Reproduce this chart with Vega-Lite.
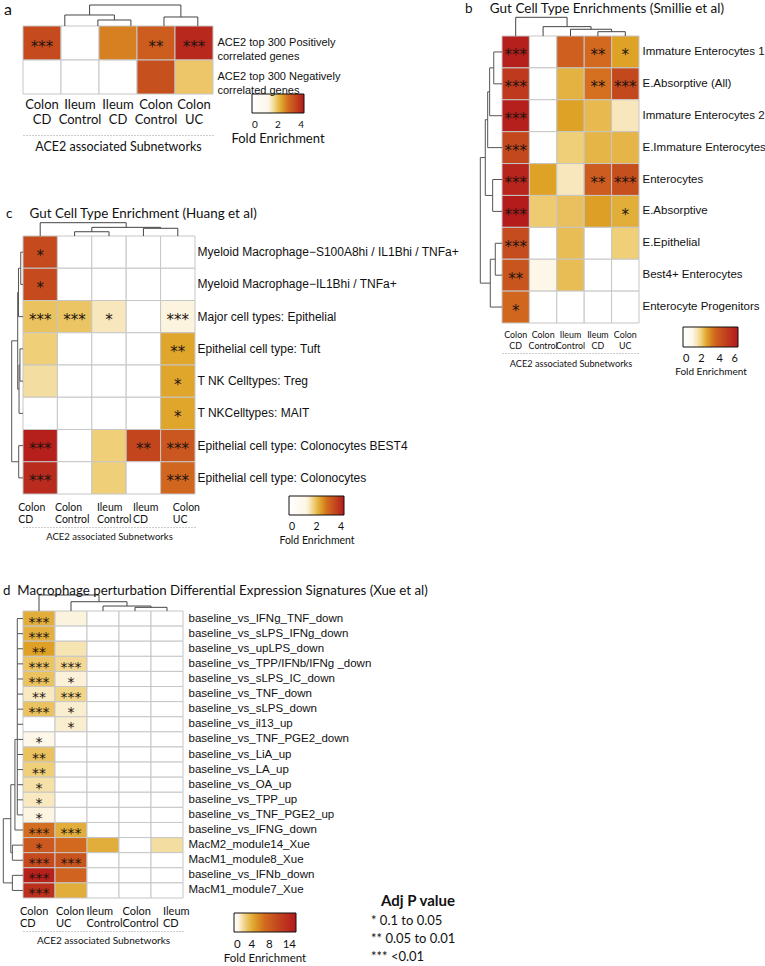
{
"$schema":"https://vega.github.io/schema/vega-lite/v6.json",
"padding":{"left":2,"top":1,"right":0,"bottom":0},
"config":{"view":{"stroke":null},"axis":{"labelLimit":400,"labelColor":"#111","titleColor":"#111"},"legend":{"labelColor":"#111","titleColor":"#111","padding":0},"title":{"color":"#111"}},
"datasets":{
"hA":[
{"c":"Colon CD","r":"ACE2 top 300 Positively correlated genes","v":3.3,"s":"***"},
{"c":"Ileum Control","r":"ACE2 top 300 Positively correlated genes","v":0,"s":""},
{"c":"Ileum CD","r":"ACE2 top 300 Positively correlated genes","v":2.6,"s":""},
{"c":"Colon Control","r":"ACE2 top 300 Positively correlated genes","v":3.0,"s":"**"},
{"c":"Colon UC","r":"ACE2 top 300 Positively correlated genes","v":3.8,"s":"***"},
{"c":"Colon CD","r":"ACE2 top 300 Negatively correlated genes","v":0,"s":""},
{"c":"Ileum Control","r":"ACE2 top 300 Negatively correlated genes","v":0,"s":""},
{"c":"Ileum CD","r":"ACE2 top 300 Negatively correlated genes","v":0,"s":""},
{"c":"Colon Control","r":"ACE2 top 300 Negatively correlated genes","v":3.2,"s":""},
{"c":"Colon UC","r":"ACE2 top 300 Negatively correlated genes","v":1.9,"s":""}
],
"hB":[
{"c":"Colon CD","r":"Immature Enterocytes 1","v":5.8,"s":"***"},{"c":"Colon Control","r":"Immature Enterocytes 1","v":0,"s":""},{"c":"Ileum Control","r":"Immature Enterocytes 1","v":3.7,"s":""},{"c":"Ileum CD","r":"Immature Enterocytes 1","v":3.4,"s":"**"},{"c":"Colon UC","r":"Immature Enterocytes 1","v":2.6,"s":"*"},
{"c":"Colon CD","r":"E.Absorptive (All)","v":4.9,"s":"***"},{"c":"Colon Control","r":"E.Absorptive (All)","v":0,"s":""},{"c":"Ileum Control","r":"E.Absorptive (All)","v":2.4,"s":""},{"c":"Ileum CD","r":"E.Absorptive (All)","v":3.3,"s":"**"},{"c":"Colon UC","r":"E.Absorptive (All)","v":4.4,"s":"***"},
{"c":"Colon CD","r":"Immature Enterocytes 2","v":5.8,"s":"***"},{"c":"Colon Control","r":"Immature Enterocytes 2","v":0,"s":""},{"c":"Ileum Control","r":"Immature Enterocytes 2","v":2.6,"s":""},{"c":"Ileum CD","r":"Immature Enterocytes 2","v":2.3,"s":""},{"c":"Colon UC","r":"Immature Enterocytes 2","v":1.5,"s":""},
{"c":"Colon CD","r":"E.Immature Enterocytes","v":4.4,"s":"***"},{"c":"Colon Control","r":"E.Immature Enterocytes","v":0,"s":""},{"c":"Ileum Control","r":"E.Immature Enterocytes","v":2.0,"s":""},{"c":"Ileum CD","r":"E.Immature Enterocytes","v":2.35,"s":""},{"c":"Colon UC","r":"E.Immature Enterocytes","v":2.35,"s":""},
{"c":"Colon CD","r":"Enterocytes","v":5.6,"s":"***"},{"c":"Colon Control","r":"Enterocytes","v":2.6,"s":""},{"c":"Ileum Control","r":"Enterocytes","v":1.5,"s":""},{"c":"Ileum CD","r":"Enterocytes","v":3.8,"s":"**"},{"c":"Colon UC","r":"Enterocytes","v":4.2,"s":"***"},
{"c":"Colon CD","r":"E.Absorptive","v":5.9,"s":"***"},{"c":"Colon Control","r":"E.Absorptive","v":2.05,"s":""},{"c":"Ileum Control","r":"E.Absorptive","v":2.2,"s":""},{"c":"Ileum CD","r":"E.Absorptive","v":2.65,"s":""},{"c":"Colon UC","r":"E.Absorptive","v":2.45,"s":"*"},
{"c":"Colon CD","r":"E.Epithelial","v":4.3,"s":"***"},{"c":"Colon Control","r":"E.Epithelial","v":0,"s":""},{"c":"Ileum Control","r":"E.Epithelial","v":2.25,"s":""},{"c":"Ileum CD","r":"E.Epithelial","v":0,"s":""},{"c":"Colon UC","r":"E.Epithelial","v":2.0,"s":""},
{"c":"Colon CD","r":"Best4+ Enterocytes","v":4.0,"s":"**"},{"c":"Colon Control","r":"Best4+ Enterocytes","v":1.1,"s":""},{"c":"Ileum Control","r":"Best4+ Enterocytes","v":2.25,"s":""},{"c":"Ileum CD","r":"Best4+ Enterocytes","v":0,"s":""},{"c":"Colon UC","r":"Best4+ Enterocytes","v":0,"s":""},
{"c":"Colon CD","r":"Enterocyte Progenitors","v":3.45,"s":"*"},{"c":"Colon Control","r":"Enterocyte Progenitors","v":0,"s":""},{"c":"Ileum Control","r":"Enterocyte Progenitors","v":0,"s":""},{"c":"Ileum CD","r":"Enterocyte Progenitors","v":0,"s":""},{"c":"Colon UC","r":"Enterocyte Progenitors","v":0,"s":""}
],
"hC":[
{"c":"Colon CD","r":"Myeloid Macrophage−S100A8hi / IL1Bhi / TNFa+","v":3.3,"s":"*"},{"c":"Colon Control","r":"Myeloid Macrophage−S100A8hi / IL1Bhi / TNFa+","v":0,"s":""},{"c":"Ileum Control","r":"Myeloid Macrophage−S100A8hi / IL1Bhi / TNFa+","v":0,"s":""},{"c":"Ileum CD","r":"Myeloid Macrophage−S100A8hi / IL1Bhi / TNFa+","v":0,"s":""},{"c":"Colon UC","r":"Myeloid Macrophage−S100A8hi / IL1Bhi / TNFa+","v":0,"s":""},
{"c":"Colon CD","r":"Myeloid Macrophage−IL1Bhi / TNFa+","v":3.3,"s":"*"},{"c":"Colon Control","r":"Myeloid Macrophage−IL1Bhi / TNFa+","v":0,"s":""},{"c":"Ileum Control","r":"Myeloid Macrophage−IL1Bhi / TNFa+","v":0,"s":""},{"c":"Ileum CD","r":"Myeloid Macrophage−IL1Bhi / TNFa+","v":0,"s":""},{"c":"Colon UC","r":"Myeloid Macrophage−IL1Bhi / TNFa+","v":0,"s":""},
{"c":"Colon CD","r":"Major cell types: Epithelial","v":1.95,"s":"***"},{"c":"Colon Control","r":"Major cell types: Epithelial","v":1.93,"s":"***"},{"c":"Ileum Control","r":"Major cell types: Epithelial","v":1.49,"s":"*"},{"c":"Ileum CD","r":"Major cell types: Epithelial","v":0,"s":""},{"c":"Colon UC","r":"Major cell types: Epithelial","v":1.33,"s":"***"},
{"c":"Colon CD","r":"Epithelial cell type: Tuft","v":1.8,"s":""},{"c":"Colon Control","r":"Epithelial cell type: Tuft","v":0,"s":""},{"c":"Ileum Control","r":"Epithelial cell type: Tuft","v":0,"s":""},{"c":"Ileum CD","r":"Epithelial cell type: Tuft","v":0,"s":""},{"c":"Colon UC","r":"Epithelial cell type: Tuft","v":2.27,"s":"**"},
{"c":"Colon CD","r":"T NK Celltypes: Treg","v":1.62,"s":""},{"c":"Colon Control","r":"T NK Celltypes: Treg","v":0,"s":""},{"c":"Ileum Control","r":"T NK Celltypes: Treg","v":0,"s":""},{"c":"Ileum CD","r":"T NK Celltypes: Treg","v":0,"s":""},{"c":"Colon UC","r":"T NK Celltypes: Treg","v":2.27,"s":"*"},
{"c":"Colon CD","r":"T NKCelltypes: MAIT","v":0,"s":""},{"c":"Colon Control","r":"T NKCelltypes: MAIT","v":0,"s":""},{"c":"Ileum Control","r":"T NKCelltypes: MAIT","v":0,"s":""},{"c":"Ileum CD","r":"T NKCelltypes: MAIT","v":0,"s":""},{"c":"Colon UC","r":"T NKCelltypes: MAIT","v":2.27,"s":"*"},
{"c":"Colon CD","r":"Epithelial cell type: Colonocytes BEST4","v":3.9,"s":"***"},{"c":"Colon Control","r":"Epithelial cell type: Colonocytes BEST4","v":0,"s":""},{"c":"Ileum Control","r":"Epithelial cell type: Colonocytes BEST4","v":1.8,"s":""},{"c":"Ileum CD","r":"Epithelial cell type: Colonocytes BEST4","v":3.4,"s":"**"},{"c":"Colon UC","r":"Epithelial cell type: Colonocytes BEST4","v":3.1,"s":"***"},
{"c":"Colon CD","r":"Epithelial cell type: Colonocytes","v":3.75,"s":"***"},{"c":"Colon Control","r":"Epithelial cell type: Colonocytes","v":0,"s":""},{"c":"Ileum Control","r":"Epithelial cell type: Colonocytes","v":1.8,"s":""},{"c":"Ileum CD","r":"Epithelial cell type: Colonocytes","v":0,"s":""},{"c":"Colon UC","r":"Epithelial cell type: Colonocytes","v":2.85,"s":"***"}
],
"hD":[
{"c":"Colon CD","r":"baseline_vs_IFNg_TNF_down","v":4.0,"s":"***"},{"c":"Colon UC","r":"baseline_vs_IFNg_TNF_down","v":1.1,"s":""},{"c":"Ileum Control","r":"baseline_vs_IFNg_TNF_down","v":0,"s":""},{"c":"Colon Control","r":"baseline_vs_IFNg_TNF_down","v":0,"s":""},{"c":"Ileum CD","r":"baseline_vs_IFNg_TNF_down","v":0,"s":""},
{"c":"Colon CD","r":"baseline_vs_sLPS_IFNg_down","v":3.9,"s":"***"},{"c":"Colon UC","r":"baseline_vs_sLPS_IFNg_down","v":0,"s":""},{"c":"Ileum Control","r":"baseline_vs_sLPS_IFNg_down","v":0,"s":""},{"c":"Colon Control","r":"baseline_vs_sLPS_IFNg_down","v":0,"s":""},{"c":"Ileum CD","r":"baseline_vs_sLPS_IFNg_down","v":0,"s":""},
{"c":"Colon CD","r":"baseline_vs_upLPS_down","v":4.6,"s":"**"},{"c":"Colon UC","r":"baseline_vs_upLPS_down","v":1.7,"s":""},{"c":"Ileum Control","r":"baseline_vs_upLPS_down","v":0,"s":""},{"c":"Colon Control","r":"baseline_vs_upLPS_down","v":0,"s":""},{"c":"Ileum CD","r":"baseline_vs_upLPS_down","v":0,"s":""},
{"c":"Colon CD","r":"baseline_vs_TPP/IFNb/IFNg _down","v":3.0,"s":"***"},{"c":"Colon UC","r":"baseline_vs_TPP/IFNb/IFNg _down","v":2.1,"s":"***"},{"c":"Ileum Control","r":"baseline_vs_TPP/IFNb/IFNg _down","v":0,"s":""},{"c":"Colon Control","r":"baseline_vs_TPP/IFNb/IFNg _down","v":0,"s":""},{"c":"Ileum CD","r":"baseline_vs_TPP/IFNb/IFNg _down","v":0,"s":""},
{"c":"Colon CD","r":"baseline_vs_sLPS_IC_down","v":3.1,"s":"***"},{"c":"Colon UC","r":"baseline_vs_sLPS_IC_down","v":1.15,"s":"*"},{"c":"Ileum Control","r":"baseline_vs_sLPS_IC_down","v":0,"s":""},{"c":"Colon Control","r":"baseline_vs_sLPS_IC_down","v":0,"s":""},{"c":"Ileum CD","r":"baseline_vs_sLPS_IC_down","v":0,"s":""},
{"c":"Colon CD","r":"baseline_vs_TNF_down","v":1.5,"s":"**"},{"c":"Colon UC","r":"baseline_vs_TNF_down","v":2.25,"s":"***"},{"c":"Ileum Control","r":"baseline_vs_TNF_down","v":0,"s":""},{"c":"Colon Control","r":"baseline_vs_TNF_down","v":0,"s":""},{"c":"Ileum CD","r":"baseline_vs_TNF_down","v":0,"s":""},
{"c":"Colon CD","r":"baseline_vs_sLPS_down","v":3.1,"s":"***"},{"c":"Colon UC","r":"baseline_vs_sLPS_down","v":1.3,"s":"*"},{"c":"Ileum Control","r":"baseline_vs_sLPS_down","v":0,"s":""},{"c":"Colon Control","r":"baseline_vs_sLPS_down","v":0,"s":""},{"c":"Ileum CD","r":"baseline_vs_sLPS_down","v":0,"s":""},
{"c":"Colon CD","r":"baseline_vs_il13_up","v":0,"s":""},{"c":"Colon UC","r":"baseline_vs_il13_up","v":1.3,"s":"*"},{"c":"Ileum Control","r":"baseline_vs_il13_up","v":0,"s":""},{"c":"Colon Control","r":"baseline_vs_il13_up","v":0,"s":""},{"c":"Ileum CD","r":"baseline_vs_il13_up","v":0,"s":""},
{"c":"Colon CD","r":"baseline_vs_TNF_PGE2_down","v":0.9,"s":"*"},{"c":"Colon UC","r":"baseline_vs_TNF_PGE2_down","v":0,"s":""},{"c":"Ileum Control","r":"baseline_vs_TNF_PGE2_down","v":0,"s":""},{"c":"Colon Control","r":"baseline_vs_TNF_PGE2_down","v":0,"s":""},{"c":"Ileum CD","r":"baseline_vs_TNF_PGE2_down","v":0,"s":""},
{"c":"Colon CD","r":"baseline_vs_LiA_up","v":3.1,"s":"**"},{"c":"Colon UC","r":"baseline_vs_LiA_up","v":0,"s":""},{"c":"Ileum Control","r":"baseline_vs_LiA_up","v":0,"s":""},{"c":"Colon Control","r":"baseline_vs_LiA_up","v":0,"s":""},{"c":"Ileum CD","r":"baseline_vs_LiA_up","v":0,"s":""},
{"c":"Colon CD","r":"baseline_vs_LA_up","v":2.5,"s":"**"},{"c":"Colon UC","r":"baseline_vs_LA_up","v":0,"s":""},{"c":"Ileum Control","r":"baseline_vs_LA_up","v":0,"s":""},{"c":"Colon Control","r":"baseline_vs_LA_up","v":0,"s":""},{"c":"Ileum CD","r":"baseline_vs_LA_up","v":0,"s":""},
{"c":"Colon CD","r":"baseline_vs_OA_up","v":1.85,"s":"*"},{"c":"Colon UC","r":"baseline_vs_OA_up","v":0,"s":""},{"c":"Ileum Control","r":"baseline_vs_OA_up","v":0,"s":""},{"c":"Colon Control","r":"baseline_vs_OA_up","v":0,"s":""},{"c":"Ileum CD","r":"baseline_vs_OA_up","v":0,"s":""},
{"c":"Colon CD","r":"baseline_vs_TPP_up","v":1.5,"s":"*"},{"c":"Colon UC","r":"baseline_vs_TPP_up","v":0,"s":""},{"c":"Ileum Control","r":"baseline_vs_TPP_up","v":0,"s":""},{"c":"Colon Control","r":"baseline_vs_TPP_up","v":0,"s":""},{"c":"Ileum CD","r":"baseline_vs_TPP_up","v":0,"s":""},
{"c":"Colon CD","r":"baseline_vs_TNF_PGE2_up","v":1.05,"s":"*"},{"c":"Colon UC","r":"baseline_vs_TNF_PGE2_up","v":0,"s":""},{"c":"Ileum Control","r":"baseline_vs_TNF_PGE2_up","v":0,"s":""},{"c":"Colon Control","r":"baseline_vs_TNF_PGE2_up","v":0,"s":""},{"c":"Ileum CD","r":"baseline_vs_TNF_PGE2_up","v":0,"s":""},
{"c":"Colon CD","r":"baseline_vs_IFNG_down","v":6.8,"s":"***"},{"c":"Colon UC","r":"baseline_vs_IFNG_down","v":4.0,"s":"***"},{"c":"Ileum Control","r":"baseline_vs_IFNG_down","v":0,"s":""},{"c":"Colon Control","r":"baseline_vs_IFNG_down","v":0,"s":""},{"c":"Ileum CD","r":"baseline_vs_IFNG_down","v":0,"s":""},
{"c":"Colon CD","r":"MacM2_module14_Xue","v":8.3,"s":"*"},{"c":"Colon UC","r":"MacM2_module14_Xue","v":7.0,"s":""},{"c":"Ileum Control","r":"MacM2_module14_Xue","v":4.0,"s":""},{"c":"Colon Control","r":"MacM2_module14_Xue","v":0,"s":""},{"c":"Ileum CD","r":"MacM2_module14_Xue","v":1.95,"s":""},
{"c":"Colon CD","r":"MacM1_module8_Xue","v":9.5,"s":"***"},{"c":"Colon UC","r":"MacM1_module8_Xue","v":8.7,"s":"***"},{"c":"Ileum Control","r":"MacM1_module8_Xue","v":0,"s":""},{"c":"Colon Control","r":"MacM1_module8_Xue","v":0,"s":""},{"c":"Ileum CD","r":"MacM1_module8_Xue","v":0,"s":""},
{"c":"Colon CD","r":"baseline_vs_IFNb_down","v":13.3,"s":"***"},{"c":"Colon UC","r":"baseline_vs_IFNb_down","v":7.5,"s":""},{"c":"Ileum Control","r":"baseline_vs_IFNb_down","v":0,"s":""},{"c":"Colon Control","r":"baseline_vs_IFNb_down","v":0,"s":""},{"c":"Ileum CD","r":"baseline_vs_IFNb_down","v":0,"s":""},
{"c":"Colon CD","r":"MacM1_module7_Xue","v":11.8,"s":"***"},{"c":"Colon UC","r":"MacM1_module7_Xue","v":4.0,"s":""},{"c":"Ileum Control","r":"MacM1_module7_Xue","v":0,"s":""},{"c":"Colon Control","r":"MacM1_module7_Xue","v":0,"s":""},{"c":"Ileum CD","r":"MacM1_module7_Xue","v":0,"s":""}
],
"dA":[
{"p":1.97,"p2":1.97,"h":0,"h2":0.286},{"p":2.84,"p2":2.84,"h":0,"h2":0.286},{"p":1.97,"p2":2.84,"h":0.286,"h2":0.286},
{"p":3.71,"p2":3.71,"h":0,"h2":0.429},{"p":4.6,"p2":4.6,"h":0,"h2":0.429},{"p":3.71,"p2":4.6,"h":0.429,"h2":0.429},
{"p":1.1,"p2":1.1,"h":0,"h2":0.524},{"p":2.405,"p2":2.405,"h":0.286,"h2":0.524},{"p":1.1,"p2":2.405,"h":0.524,"h2":0.524},
{"p":1.7525,"p2":1.7525,"h":0.524,"h2":1},{"p":4.155,"p2":4.155,"h":0.429,"h2":1},{"p":1.7525,"p2":4.155,"h":1,"h2":1}
],
"dBc":[
{"p":3.5,"p2":3.5,"h":0,"h2":0.23},{"p":4.5,"p2":4.5,"h":0,"h2":0.23},{"p":3.5,"p2":4.5,"h":0.23,"h2":0.23},
{"p":2.5,"p2":2.5,"h":0,"h2":0.36},{"p":4,"p2":4,"h":0.23,"h2":0.36},{"p":2.5,"p2":4,"h":0.36,"h2":0.36},
{"p":1.5,"p2":1.5,"h":0,"h2":0.5},{"p":3.25,"p2":3.25,"h":0.36,"h2":0.5},{"p":1.5,"p2":3.25,"h":0.5,"h2":0.5},
{"p":0.5,"p2":0.5,"h":0,"h2":1},{"p":2.375,"p2":2.375,"h":0.5,"h2":1},{"p":0.5,"p2":2.375,"h":1,"h2":1}
],
"dBr":[
{"p":0.5,"p2":0.5,"h":0,"h2":0.38},{"p":1.5,"p2":1.5,"h":0,"h2":0.38},{"p":0.5,"p2":1.5,"h":0.38,"h2":0.38},
{"p":1,"p2":1,"h":0.38,"h2":0.57},{"p":2.5,"p2":2.5,"h":0,"h2":0.57},{"p":1,"p2":2.5,"h":0.57,"h2":0.57},
{"p":1.75,"p2":1.75,"h":0.57,"h2":0.66},{"p":3.5,"p2":3.5,"h":0,"h2":0.66},{"p":1.75,"p2":3.5,"h":0.66,"h2":0.66},
{"p":4.5,"p2":4.5,"h":0,"h2":0.43},{"p":5.5,"p2":5.5,"h":0,"h2":0.43},{"p":4.5,"p2":5.5,"h":0.43,"h2":0.43},
{"p":2.625,"p2":2.625,"h":0.66,"h2":0.77},{"p":5,"p2":5,"h":0.43,"h2":0.77},{"p":2.625,"p2":5,"h":0.77,"h2":0.77},
{"p":6.5,"p2":6.5,"h":0,"h2":0.31},{"p":7.5,"p2":7.5,"h":0,"h2":0.31},{"p":6.5,"p2":7.5,"h":0.31,"h2":0.31},
{"p":7,"p2":7,"h":0.31,"h2":0.54},{"p":8.5,"p2":8.5,"h":0,"h2":0.54},{"p":7,"p2":8.5,"h":0.54,"h2":0.54},
{"p":3.8125,"p2":3.8125,"h":0.77,"h2":1},{"p":7.75,"p2":7.75,"h":0.54,"h2":1},{"p":3.8125,"p2":7.75,"h":1,"h2":1}
],
"dCc":[
{"p":1.5,"p2":1.5,"h":0,"h2":0.32},{"p":2.5,"p2":2.5,"h":0,"h2":0.32},{"p":1.5,"p2":2.5,"h":0.32,"h2":0.32},
{"p":3.5,"p2":3.5,"h":0,"h2":0.58},{"p":4.5,"p2":4.5,"h":0,"h2":0.58},{"p":3.5,"p2":4.5,"h":0.58,"h2":0.58},
{"p":2,"p2":2,"h":0.32,"h2":0.65},{"p":4,"p2":4,"h":0.58,"h2":0.65},{"p":2,"p2":4,"h":0.65,"h2":0.65},
{"p":0.5,"p2":0.5,"h":0,"h2":1},{"p":3,"p2":3,"h":0.65,"h2":1},{"p":0.5,"p2":3,"h":1,"h2":1}
],
"dCr":[
{"p":0.5,"p2":0.5,"h":0,"h2":0.2},{"p":1.5,"p2":1.5,"h":0,"h2":0.2},{"p":0.5,"p2":1.5,"h":0.2,"h2":0.2},
{"p":1,"p2":1,"h":0.2,"h2":0.4},{"p":2.5,"p2":2.5,"h":0,"h2":0.4},{"p":1,"p2":2.5,"h":0.4,"h2":0.4},
{"p":3.5,"p2":3.5,"h":0,"h2":0.27},{"p":4.5,"p2":4.5,"h":0,"h2":0.27},{"p":3.5,"p2":4.5,"h":0.27,"h2":0.27},
{"p":4,"p2":4,"h":0.27,"h2":0.35},{"p":5.5,"p2":5.5,"h":0,"h2":0.35},{"p":4,"p2":5.5,"h":0.35,"h2":0.35},
{"p":1.75,"p2":1.75,"h":0.4,"h2":0.47},{"p":4.75,"p2":4.75,"h":0.35,"h2":0.47},{"p":1.75,"p2":4.75,"h":0.47,"h2":0.47},
{"p":6.5,"p2":6.5,"h":0,"h2":0.38},{"p":7.5,"p2":7.5,"h":0,"h2":0.38},{"p":6.5,"p2":7.5,"h":0.38,"h2":0.38},
{"p":3.25,"p2":3.25,"h":0.47,"h2":1},{"p":7,"p2":7,"h":0.38,"h2":1},{"p":3.25,"p2":7,"h":1,"h2":1}
],
"dDc":[
{"p":3.5,"p2":3.5,"h":0,"h2":0.23},{"p":4.5,"p2":4.5,"h":0,"h2":0.23},{"p":3.5,"p2":4.5,"h":0.23,"h2":0.23},
{"p":2.5,"p2":2.5,"h":0,"h2":0.31},{"p":4,"p2":4,"h":0.23,"h2":0.31},{"p":2.5,"p2":4,"h":0.31,"h2":0.31},
{"p":1.5,"p2":1.5,"h":0,"h2":0.58},{"p":3.25,"p2":3.25,"h":0.31,"h2":0.58},{"p":1.5,"p2":3.25,"h":0.58,"h2":0.58},
{"p":0.5,"p2":0.5,"h":0,"h2":1},{"p":2.375,"p2":2.375,"h":0.58,"h2":1},{"p":0.5,"p2":2.375,"h":1,"h2":1}
],
"dDr":[
{"p":0.5,"p2":0.5,"h":0,"h2":0.29},{"p":1.5,"p2":1.5,"h":0,"h2":0.29},{"p":2.5,"p2":2.5,"h":0,"h2":0.29},{"p":3.5,"p2":3.5,"h":0,"h2":0.29},{"p":4.5,"p2":4.5,"h":0,"h2":0.29},{"p":5.5,"p2":5.5,"h":0,"h2":0.29},{"p":6.5,"p2":6.5,"h":0,"h2":0.29},{"p":7.5,"p2":7.5,"h":0,"h2":0.29},{"p":8.5,"p2":8.5,"h":0,"h2":0.29},{"p":9.5,"p2":9.5,"h":0,"h2":0.29},{"p":10.5,"p2":10.5,"h":0,"h2":0.29},{"p":11.5,"p2":11.5,"h":0,"h2":0.29},{"p":12.5,"p2":12.5,"h":0,"h2":0.29},{"p":13.5,"p2":13.5,"h":0,"h2":0.29},
{"p":0.5,"p2":13.5,"h":0.29,"h2":0.29},
{"p":8.5,"p2":8.5,"h":0.29,"h2":0.41},{"p":14.5,"p2":14.5,"h":0,"h2":0.41},{"p":8.5,"p2":14.5,"h":0.41,"h2":0.41},
{"p":15.5,"p2":15.5,"h":0,"h2":0.54},{"p":16.5,"p2":16.5,"h":0,"h2":0.54},{"p":15.5,"p2":16.5,"h":0.54,"h2":0.54},
{"p":11.5,"p2":11.5,"h":0.41,"h2":0.62},{"p":16,"p2":16,"h":0.54,"h2":0.62},{"p":11.5,"p2":16,"h":0.62,"h2":0.62},
{"p":17.5,"p2":17.5,"h":0,"h2":0.54},{"p":18.5,"p2":18.5,"h":0,"h2":0.54},{"p":17.5,"p2":18.5,"h":0.54,"h2":0.54},
{"p":13.75,"p2":13.75,"h":0.62,"h2":1},{"p":18,"p2":18,"h":0.54,"h2":1},{"p":13.75,"p2":18,"h":1,"h2":1}
]
},
"vconcat":[
{"hconcat":[
{"vconcat":[
{"width":190,"height":68,
"title":{"text":"a","anchor":"start","frame":"group","dx":-19,"offset":-26,"baseline":"alphabetic","fontSize":16,"fontWeight":"normal","font":"Lato"},
"layer":[
{"data":{"name":"hA"},"mark":{"type":"rect","stroke":"#c6c6c6","strokeWidth":1},
"encoding":{
"x":{"field":"c","type":"nominal","scale":{"domain":["Colon CD","Ileum Control","Ileum CD","Colon Control","Colon UC"],"paddingInner":0,"paddingOuter":0},"axis":{"orient":"bottom","title":null,"domain":false,"ticks":false,"labelAngle":0,"labelExpr":"split(datum.label, ' ')","labelFont":"Lato","labelFontSize":13,"labelLineHeight":15,"labelPadding":4,"labelBaseline":"top"}},
"y":{"field":"r","type":"nominal","scale":{"domain":["ACE2 top 300 Positively correlated genes","ACE2 top 300 Negatively correlated genes"],"paddingInner":0,"paddingOuter":0},"axis":{"orient":"right","title":null,"domain":false,"ticks":false,"labelFont":"Liberation Sans","labelFontSize":11,"labelPadding":4,"labelLineHeight":13.5,"labelExpr":"split(replace(datum.label, ' correlated', '|correlated'), '|')"}},
"color":{"field":"v","type":"quantitative","scale":{"domain":[0,1.3,1.8,2.3,2.8,3.4,4],"range":["#ffffff","#fdf6e6","#efcf78","#dea326","#d2691f","#c2451e","#b3191c"],"interpolate":"rgb"},
"legend":{"orient":"none","legendX":208,"legendY":68,"direction":"horizontal","gradientLength":52,"gradientThickness":19,"gradientStrokeColor":"#111","gradientStrokeWidth":1,"values":[0,2,4],"labelFont":"Lato","labelFontSize":10,"labelOffset":7,"labelAlign":"center","labelOverlap":false,"title":"Fold Enrichment","titleOrient":"bottom","titleAnchor":"middle","titleAlign":"center","titleFont":"Lato","titleFontSize":13,"titleFontWeight":"normal","titlePadding":3}}}},
{"data":{"name":"hA"},"transform":[{"filter":"datum.s != ''"}],"mark":{"type":"text","font":"DejaVu Sans","fontSize":15,"baseline":"alphabetic","dy":8.5,"color":"#1e1410"},
"encoding":{
"x":{"field":"c","type":"nominal","scale":{"domain":["Colon CD","Ileum Control","Ileum CD","Colon Control","Colon UC"],"paddingInner":0,"paddingOuter":0},"axis":null},
"y":{"field":"r","type":"nominal","scale":{"domain":["ACE2 top 300 Positively correlated genes","ACE2 top 300 Negatively correlated genes"],"paddingInner":0,"paddingOuter":0},"axis":null},
"text":{"field":"s"}}},
{"data":{"name":"dA"},"mark":{"type":"rule","color":"#444","strokeWidth":1},
"encoding":{
"x":{"field":"p","type":"quantitative","scale":{"domain":[0,5],"nice":false,"zero":false},"axis":{"orient":"bottom","offset":41,"domainDash":[1,2],"domainColor":"#999","ticks":false,"labels":false,"grid":false,"title":"ACE2 associated Subnetworks","titleFont":"Lato","titleFontSize":12.5,"titleFontWeight":"normal","titlePadding":5}},
"x2":{"field":"p2"},
"y":{"field":"h","type":"quantitative","scale":{"domain":[0,1],"range":[0,-21],"nice":false,"zero":false},"axis":null},
"y2":{"field":"h2"}}}
],
"resolve":{"scale":{"x":"independent","y":"independent"}}
},
{"width":172,"height":258,
"title":{"text":"c\u00a0\u00a0\u00a0\u00a0\u00a0Gut Cell Type Enrichment (Huang et al)","anchor":"start","frame":"group","dx":-17,"offset":-9.3,"baseline":"alphabetic","fontSize":13.4,"fontWeight":"normal","font":"Lato"},
"layer":[
{"data":{"name":"hC"},"mark":{"type":"rect","stroke":"#c6c6c6","strokeWidth":1},
"encoding":{
"x":{"field":"c","type":"nominal","scale":{"domain":["Colon CD","Colon Control","Ileum Control","Ileum CD","Colon UC"],"paddingInner":0,"paddingOuter":0},"axis":{"orient":"bottom","title":null,"domain":false,"ticks":false,"labelAngle":0,"labelExpr":"split(datum.label, ' ')","labelFont":"Lato","labelFontSize":10.5,"labelLineHeight":12.3,"labelPadding":8,"labelBaseline":"top","labelAlign":"left","labelOffset":{"condition":[{"test":"datum.value == 'Colon CD'","value":-22},{"test":"datum.value == 'Colon Control'","value":-19.6},{"test":"datum.value == 'Ileum Control'","value":-12},{"test":"datum.value == 'Ileum CD'","value":-10.5}],"value":-5}}},
"y":{"field":"r","type":"nominal","scale":{"domain":["Myeloid Macrophage−S100A8hi / IL1Bhi / TNFa+","Myeloid Macrophage−IL1Bhi / TNFa+","Major cell types: Epithelial","Epithelial cell type: Tuft","T NK Celltypes: Treg","T NKCelltypes: MAIT","Epithelial cell type: Colonocytes BEST4","Epithelial cell type: Colonocytes"],"paddingInner":0,"paddingOuter":0},"axis":{"orient":"right","title":null,"domain":false,"ticks":false,"labelFont":"Liberation Sans","labelFontSize":12,"labelPadding":2}},
"color":{"field":"v","type":"quantitative","scale":{"domain":[0,1.3,1.8,2.3,2.8,3.4,4],"range":["#ffffff","#fdf6e6","#efcf78","#dea326","#d2691f","#c2451e","#b3191c"],"interpolate":"rgb"},
"legend":{"orient":"none","legendX":256,"legendY":260,"direction":"horizontal","gradientLength":55,"gradientThickness":19,"gradientStrokeColor":"#111","gradientStrokeWidth":1,"values":[0,2,4],"labelFont":"Lato","labelFontSize":10.5,"labelOffset":7,"labelAlign":"center","labelOverlap":false,"title":"Fold Enrichment","titleOrient":"bottom","titleAnchor":"middle","titleAlign":"center","titleFont":"Lato","titleFontSize":10.5,"titleFontWeight":"normal","titlePadding":3}}}},
{"data":{"name":"hC"},"transform":[{"filter":"datum.s != ''"}],"mark":{"type":"text","font":"DejaVu Sans","fontSize":15,"baseline":"alphabetic","dy":8.5,"color":"#1e1410"},
"encoding":{
"x":{"field":"c","type":"nominal","scale":{"domain":["Colon CD","Colon Control","Ileum Control","Ileum CD","Colon UC"],"paddingInner":0,"paddingOuter":0},"axis":null},
"y":{"field":"r","type":"nominal","scale":{"domain":["Myeloid Macrophage−S100A8hi / IL1Bhi / TNFa+","Myeloid Macrophage−IL1Bhi / TNFa+","Major cell types: Epithelial","Epithelial cell type: Tuft","T NK Celltypes: Treg","T NKCelltypes: MAIT","Epithelial cell type: Colonocytes BEST4","Epithelial cell type: Colonocytes"],"paddingInner":0,"paddingOuter":0},"axis":null},
"text":{"field":"s"}}},
{"data":{"name":"dCc"},"mark":{"type":"rule","color":"#444","strokeWidth":1},
"encoding":{
"x":{"field":"p","type":"quantitative","scale":{"domain":[0,5],"nice":false,"zero":false},"axis":{"orient":"bottom","offset":33,"domainDash":[1,2],"domainColor":"#999","ticks":false,"labels":false,"grid":false,"title":"ACE2 associated Subnetworks","titleFont":"Lato","titleFontSize":9.5,"titleFontWeight":"normal","titlePadding":4}},
"x2":{"field":"p2"},
"y":{"field":"h","type":"quantitative","scale":{"domain":[0,1],"range":[0,-13.3],"nice":false,"zero":false},"axis":null},
"y2":{"field":"h2"}}},
{"data":{"name":"dCr"},"mark":{"type":"rule","color":"#555","strokeWidth":1},
"encoding":{
"x":{"field":"h","type":"quantitative","scale":{"domain":[0,1],"range":[0,-11.3],"nice":false,"zero":false},"axis":null},
"x2":{"field":"h2"},
"y":{"field":"p","type":"quantitative","scale":{"domain":[0,8],"range":[0,258],"nice":false,"zero":false},"axis":null},
"y2":{"field":"p2"}}}
],
"resolve":{"scale":{"x":"independent","y":"independent"}}
}
],"spacing":142,"bounds":"flush","resolve":{"scale":{"color":"independent","opacity":"independent"},"legend":{"color":"independent","opacity":"independent"}}},
{"width":137,"height":297,
"title":{"text":"b\u00a0\u00a0\u00a0\u00a0\u00a0Gut Cell Type Enrichments (Smillie et al)","anchor":"start","frame":"group","dx":-37,"offset":-9.2,"baseline":"alphabetic","fontSize":13.5,"fontWeight":"normal","font":"Lato"},
"layer":[
{"data":{"name":"hB"},"mark":{"type":"rect","stroke":"#c6c6c6","strokeWidth":1},
"encoding":{
"x":{"field":"c","type":"nominal","scale":{"domain":["Colon CD","Colon Control","Ileum Control","Ileum CD","Colon UC"],"paddingInner":0,"paddingOuter":0},"axis":{"orient":"bottom","title":null,"domain":false,"ticks":false,"labelAngle":0,"labelExpr":"split(datum.label, ' ')","labelFont":"Lato","labelFontSize":8.9,"labelLineHeight":11.5,"labelPadding":7,"labelBaseline":"top"}},
"y":{"field":"r","type":"nominal","scale":{"domain":["Immature Enterocytes 1","E.Absorptive (All)","Immature Enterocytes 2","E.Immature Enterocytes","Enterocytes","E.Absorptive","E.Epithelial","Best4+ Enterocytes","Enterocyte Progenitors"],"paddingInner":0,"paddingOuter":0,"range":[10,297]},"axis":{"orient":"right","title":null,"domain":false,"ticks":false,"labelFont":"Liberation Sans","labelFontSize":11.5,"labelPadding":3}},
"color":{"field":"v","type":"quantitative","scale":{"domain":[0,1.2,2,2.6,3.4,4.5,6],"range":["#ffffff","#fdf6e6","#efcf78","#dea326","#d2691f","#c2451e","#b3191c"],"interpolate":"rgb"},
"legend":{"orient":"none","legendX":173,"legendY":301,"direction":"horizontal","gradientLength":55,"gradientThickness":20,"gradientStrokeColor":"#111","gradientStrokeWidth":1,"values":[0,2,4,6],"labelFont":"Lato","labelFontSize":11,"labelOffset":6,"labelAlign":"center","labelOverlap":false,"title":"Fold Enrichment","titleOrient":"bottom","titleAnchor":"middle","titleAlign":"center","titleFont":"Lato","titleFontSize":10,"titleFontWeight":"normal","titlePadding":3}}}},
{"data":{"name":"hB"},"transform":[{"filter":"datum.s != ''"}],"mark":{"type":"text","font":"DejaVu Sans","fontSize":15,"baseline":"alphabetic","dy":8.5,"color":"#1e1410"},
"encoding":{
"x":{"field":"c","type":"nominal","scale":{"domain":["Colon CD","Colon Control","Ileum Control","Ileum CD","Colon UC"],"paddingInner":0,"paddingOuter":0},"axis":null},
"y":{"field":"r","type":"nominal","scale":{"domain":["Immature Enterocytes 1","E.Absorptive (All)","Immature Enterocytes 2","E.Immature Enterocytes","Enterocytes","E.Absorptive","E.Epithelial","Best4+ Enterocytes","Enterocyte Progenitors"],"paddingInner":0,"paddingOuter":0,"range":[10,297]},"axis":null},
"text":{"field":"s"}}},
{"data":{"name":"dBc"},"mark":{"type":"rule","color":"#444","strokeWidth":1},
"encoding":{
"x":{"field":"p","type":"quantitative","scale":{"domain":[0,5],"nice":false,"zero":false},"axis":{"orient":"bottom","offset":30,"domainDash":[1,2],"domainColor":"#999","ticks":false,"labels":false,"grid":false,"title":"ACE2 associated Subnetworks","titleFont":"Lato","titleFontSize":9.2,"titleFontWeight":"normal","titlePadding":6}},
"x2":{"field":"p2"},
"y":{"field":"h","type":"quantitative","scale":{"domain":[0,1],"range":[10,-8.7],"nice":false,"zero":false},"axis":null},
"y2":{"field":"h2"}}},
{"data":{"name":"dBr"},"mark":{"type":"rule","color":"#555","strokeWidth":1},
"encoding":{
"x":{"field":"h","type":"quantitative","scale":{"domain":[0,1],"range":[0,-21.7],"nice":false,"zero":false},"axis":null},
"x2":{"field":"h2"},
"y":{"field":"p","type":"quantitative","scale":{"domain":[0,9],"range":[10,297],"nice":false,"zero":false},"axis":null},
"y2":{"field":"p2"}}}
],
"resolve":{"scale":{"x":"independent","y":"independent"}}
}
],"spacing":479,"bounds":"flush","resolve":{"scale":{"color":"independent","opacity":"independent"},"legend":{"color":"independent","opacity":"independent"}}},
{"width":160,"height":287,
"title":{"text":"d\u00a0\u00a0Macrophage perturbation Differential Expression Signatures (Xue et al)","anchor":"start","frame":"group","dx":-20,"offset":-14,"baseline":"alphabetic","fontSize":13.3,"fontWeight":"normal","font":"Lato"},
"layer":[
{"data":{"name":"hD"},"mark":{"type":"rect","stroke":"#c6c6c6","strokeWidth":1},
"encoding":{
"x":{"field":"c","type":"nominal","scale":{"domain":["Colon CD","Colon UC","Ileum Control","Colon Control","Ileum CD"],"paddingInner":0,"paddingOuter":0},"axis":{"orient":"bottom","title":null,"domain":false,"ticks":false,"labelAngle":0,"labelExpr":"split(datum.label, ' ')","labelFont":"Lato","labelFontSize":11,"labelLineHeight":12.7,"labelPadding":7,"labelBaseline":"top","labelAlign":"left","labelOffset":{"condition":[{"test":"datum.value == 'Colon CD'","value":-19},{"test":"datum.value == 'Colon UC'","value":-15},{"test":"datum.value == 'Ileum Control'","value":-16.5},{"test":"datum.value == 'Colon Control'","value":-12.5}],"value":-4}}},
"y":{"field":"r","type":"nominal","scale":{"domain":["baseline_vs_IFNg_TNF_down","baseline_vs_sLPS_IFNg_down","baseline_vs_upLPS_down","baseline_vs_TPP/IFNb/IFNg _down","baseline_vs_sLPS_IC_down","baseline_vs_TNF_down","baseline_vs_sLPS_down","baseline_vs_il13_up","baseline_vs_TNF_PGE2_down","baseline_vs_LiA_up","baseline_vs_LA_up","baseline_vs_OA_up","baseline_vs_TPP_up","baseline_vs_TNF_PGE2_up","baseline_vs_IFNG_down","MacM2_module14_Xue","MacM1_module8_Xue","baseline_vs_IFNb_down","MacM1_module7_Xue"],"paddingInner":0,"paddingOuter":0},"axis":{"orient":"right","title":null,"domain":false,"ticks":false,"labelFont":"Liberation Sans","labelFontSize":11.5,"labelPadding":5}},
"color":{"field":"v","type":"quantitative","scale":{"domain":[0,1,2.5,4.5,7,10,14],"range":["#ffffff","#fdf6e6","#efcf78","#dea326","#d2691f","#c2451e","#b3191c"],"interpolate":"rgb"},
"legend":{"orient":"none","legendX":201,"legendY":302,"direction":"horizontal","gradientLength":62,"gradientThickness":19,"gradientStrokeColor":"#111","gradientStrokeWidth":1,"values":[0,4,8,14],"labelFont":"Lato","labelFontSize":11.5,"labelOffset":7,"labelAlign":"center","labelOverlap":false,"title":"Fold Enrichment","titleOrient":"bottom","titleAnchor":"middle","titleAlign":"center","titleFont":"Lato","titleFontSize":11.5,"titleFontWeight":"normal","titlePadding":2}}}},
{"data":{"name":"hD"},"transform":[{"filter":"datum.s != ''"}],"mark":{"type":"text","font":"DejaVu Sans","fontSize":14,"baseline":"alphabetic","dy":8,"color":"#1e1410"},
"encoding":{
"x":{"field":"c","type":"nominal","scale":{"domain":["Colon CD","Colon UC","Ileum Control","Colon Control","Ileum CD"],"paddingInner":0,"paddingOuter":0},"axis":null},
"y":{"field":"r","type":"nominal","scale":{"domain":["baseline_vs_IFNg_TNF_down","baseline_vs_sLPS_IFNg_down","baseline_vs_upLPS_down","baseline_vs_TPP/IFNb/IFNg _down","baseline_vs_sLPS_IC_down","baseline_vs_TNF_down","baseline_vs_sLPS_down","baseline_vs_il13_up","baseline_vs_TNF_PGE2_down","baseline_vs_LiA_up","baseline_vs_LA_up","baseline_vs_OA_up","baseline_vs_TPP_up","baseline_vs_TNF_PGE2_up","baseline_vs_IFNG_down","MacM2_module14_Xue","MacM1_module8_Xue","baseline_vs_IFNb_down","MacM1_module7_Xue"],"paddingInner":0,"paddingOuter":0},"axis":null},
"text":{"field":"s"},
"opacity":{"field":"s","type":"ordinal","scale":{"domain":["*","**","***"],"range":[1,1]},
"legend":{"orient":"none","legendX":335,"legendY":283,"title":"Adj P value","titleFont":"Lato","titleFontSize":15,"titleFontWeight":"bold","titleAnchor":"end","titlePadding":5,"labelFont":"Lato","labelFontSize":13,"symbolSize":0,"symbolOpacity":0,"symbolStrokeWidth":0,"labelOffset":0,"rowPadding":4,"labelExpr":"datum.label == '*' ? '* 0.1 to 0.05' : (datum.label == '**' ? '** 0.05 to 0.01' : '*** <0.01')"}}}},
{"data":{"name":"dDc"},"mark":{"type":"rule","color":"#444","strokeWidth":1},
"encoding":{
"x":{"field":"p","type":"quantitative","scale":{"domain":[0,5],"nice":false,"zero":false},"axis":{"orient":"bottom","offset":33,"domainDash":[1,2],"domainColor":"#999","ticks":false,"labels":false,"grid":false,"title":"ACE2 associated Subnetworks","titleFont":"Lato","titleFontSize":10,"titleFontWeight":"normal","titlePadding":4}},
"x2":{"field":"p2"},
"y":{"field":"h","type":"quantitative","scale":{"domain":[0,1],"range":[0,-16],"nice":false,"zero":false},"axis":null},
"y2":{"field":"h2"}}},
{"data":{"name":"dDr"},"mark":{"type":"rule","color":"#555","strokeWidth":1},
"encoding":{
"x":{"field":"h","type":"quantitative","scale":{"domain":[0,1],"range":[0,-19.7],"nice":false,"zero":false},"axis":null},
"x2":{"field":"h2"},
"y":{"field":"p","type":"quantitative","scale":{"domain":[0,19],"range":[0,287],"nice":false,"zero":false},"axis":null},
"y2":{"field":"p2"}}}
],
"resolve":{"scale":{"x":"independent","y":"independent"}}
}
],
"spacing":585,"bounds":"flush",
"resolve":{"scale":{"color":"independent","opacity":"independent"},"legend":{"color":"independent","opacity":"independent"}}
}
